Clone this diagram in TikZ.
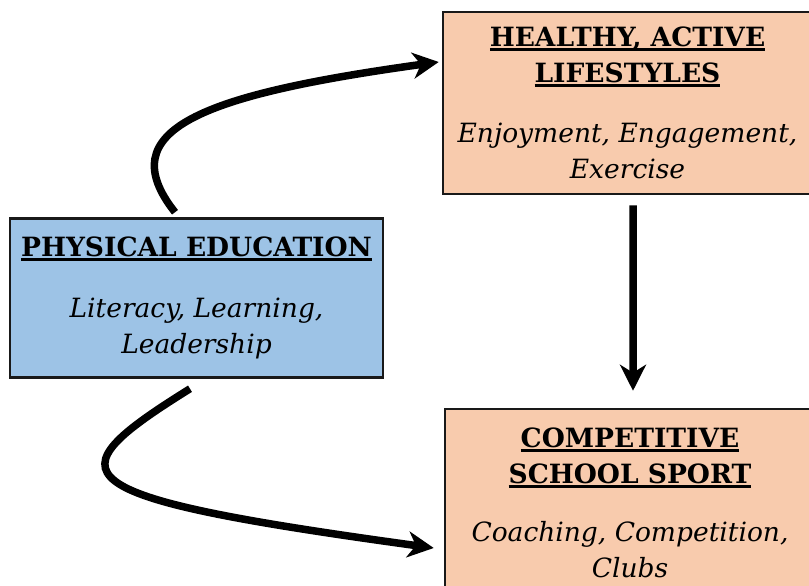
\documentclass[tikz,border=0pt]{standalone}
\usepackage{fontspec}
\setmainfont{DejaVu Serif}
\usetikzlibrary{arrows.meta}
\usetikzlibrary{positioning}
\definecolor{peach}{HTML}{F8CBAD}
\definecolor{paleblue}{HTML}{9DC3E6}
\newsavebox{\ulsave}
\newcommand{\ulhead}[1]{\sbox{\ulsave}{\bfseries #1}\rlap{\rule[-4bp]{\wd\ulsave}{2.5bp}}\usebox{\ulsave}}

\begin{document}
\begin{tikzpicture}[
    x=1bp, y=-1bp,
    font=\fontsize{26.5bp}{36bp}\selectfont
]
\tikzset{
    mynode/.style = {rectangle, draw=black!90, line width=2.5bp, align=center, fill=peach, inner sep=0pt},
    mynodeb/.style = {mynode, fill=paleblue},
    edgen/.style = {-{Stealth[length=26bp,width=26bp,inset=8bp]}, line width=7.5bp}
}
\useasboundingbox (0,0) rectangle (809,586);
\node[mynodeb, minimum width=373bp, minimum height=159bp] at (196.5,298) (pe)
    {\ulhead{PHYSICAL EDUCATION}\\[25bp]\textit{Literacy, Learning,}\\\textit{Leadership}};
\node[mynode, minimum width=369bp, minimum height=182bp] at (627.5,103) (hl)
    {\ulhead{HEALTHY, ACTIVE}\\\ulhead{LIFESTYLES}\\[24bp]\textit{Enjoyment, Engagement,}\\\textit{Exercise}};
\node[mynode, minimum width=370bp, minimum height=188bp] at (630,503) (sp)
    {\ulhead{COMPETITIVE}\\\ulhead{SCHOOL SPORT}\\[22bp]\textit{Coaching, Competition,}\\\textit{Clubs}};
\draw[edgen] ([xshift=-21.5bp,yshift=5bp]pe.north) .. controls (110,130) and (200,95) .. ([xshift=-3bp,yshift=41bp]hl.west);
\draw[edgen] ([xshift=-6.5bp,yshift=-10bp]pe.south) .. controls (50,476) and (55,496) .. ([xshift=-10bp,yshift=-45bp]sp.west);
\draw[edgen] ([xshift=5.5bp,yshift=-10bp]hl.south) -- ([xshift=3bp,yshift=17bp]sp.north);
\end{tikzpicture}
\end{document}
